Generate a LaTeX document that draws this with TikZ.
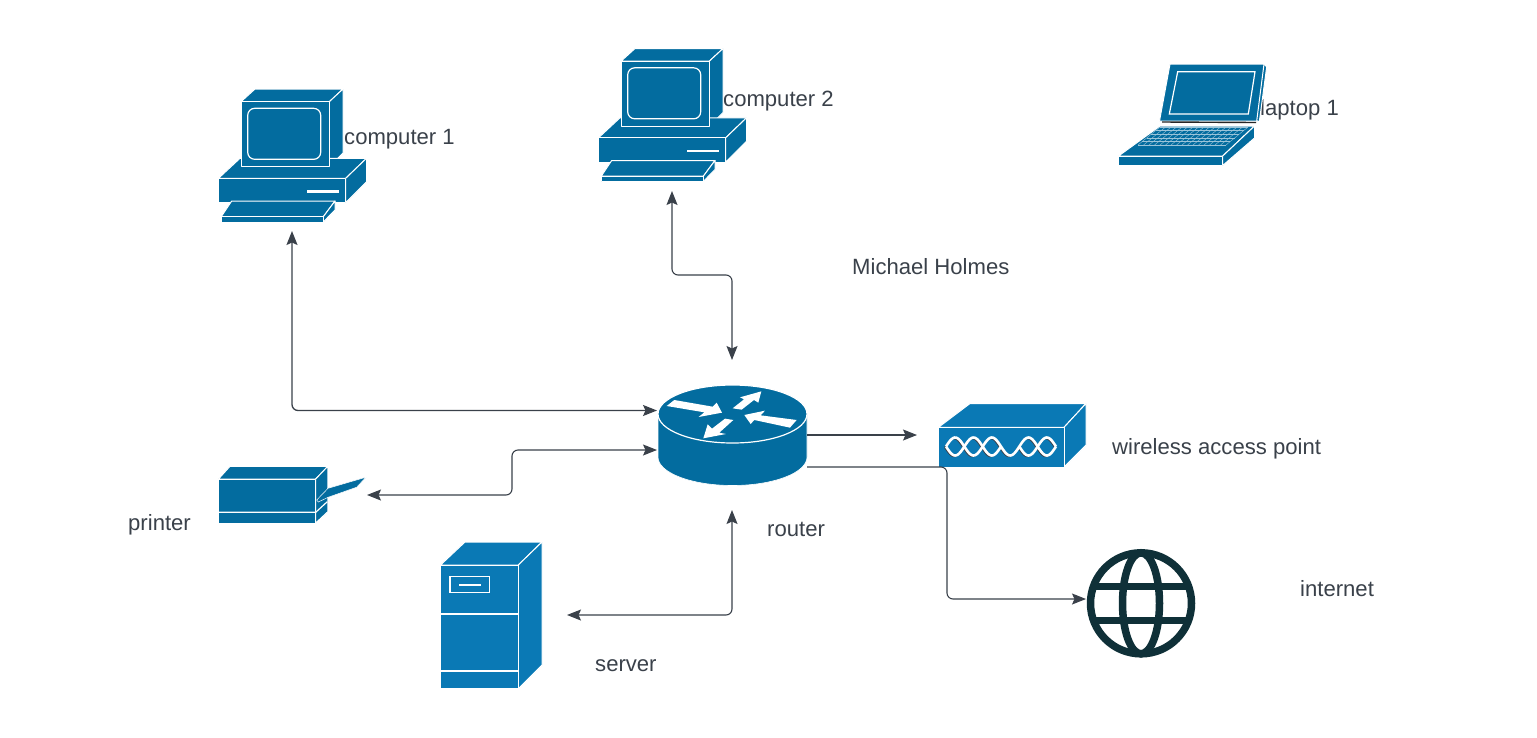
\documentclass[tikz,border=0pt]{standalone}
\usepackage{fontspec}
\setmainfont{Liberation Sans}
\usetikzlibrary{arrows.meta}
\definecolor{iconA}{HTML}{036C9F}
\definecolor{iconB}{HTML}{0A79B5}
\definecolor{inkc}{HTML}{3A414A}
\definecolor{globec}{HTML}{0F3038}
\tikzset{
  x=1pt,y=-1pt,
  face/.style={fill=iconA,draw=white,line width=1pt,line join=round},
  faceb/.style={fill=iconB,draw=white,line width=1pt,line join=round},
  detail/.style={draw=white,line width=1.2pt},
  tag/.style={anchor=base west,inner sep=0pt,text=inkc,font=\fontsize{22.1}{26}\selectfont},
  linkone/.style={draw=inkc,line width=1.1pt,rounded corners=6pt,-{Stealth[length=14pt,width=11pt,inset=2.5pt]}},
  linkboth/.style={draw=inkc,line width=1.1pt,rounded corners=6pt,{Stealth[length=14pt,width=11pt,inset=2.5pt]}-{Stealth[length=14pt,width=11pt,inset=2.5pt]}},
  computerpic/.pic={
    % origin = left edge of base, top edge of monitor
    \path[face] (22,12.7)--(36,0)--(124,0)--(110.3,12.7)--cycle;
    \path[face] (110.3,12.7)--(124,0)--(124,64)--(110.3,77.7)--cycle;
    \path[face] (-0.5,89.3)--(21,69.3)--(147.5,69.3)--(126.7,89.3)--cycle;
    \path[face] (126.7,89.3)--(147.5,69.3)--(147.5,92.7)--(126.7,113.6)--cycle;
    \path[face] (-0.5,89.3) rectangle (126.7,113.6);
    \path[face] (22,12.7) rectangle (110.3,77.7);
    \path[detail,rounded corners=7pt] (28.7,19.3) rectangle (101.7,70.3);
    \path[fill=white] (87.7,101) rectangle (120,103.7);
    \path[face] (12.7,112)--(116,112)--(104.3,127.7)--(2.2,127.7)--cycle;
    \path[face] (104.3,127.7)--(116,112)--(116,121)--(104.3,133)--cycle;
    \path[face] (2.2,127.7) rectangle (104.3,133);
  }
}
\begin{document}
\begin{tikzpicture}
\useasboundingbox[fill=white] (0,0) rectangle (1537,737);

% connector ends
\coordinate (c1end) at (292,231);
\coordinate (c1knee) at (292,410.5);
\coordinate (r1) at (657,410.5);
\coordinate (c2end) at (672,191);
\coordinate (c2k1) at (672,275);
\coordinate (c2k2) at (732,275);
\coordinate (r2) at (732,360);
\coordinate (prend) at (367,495);
\coordinate (prk1) at (512,495);
\coordinate (prk2) at (512,450);
\coordinate (r3) at (657,450);
\coordinate (svend) at (567,615);
\coordinate (svk) at (732,615);
\coordinate (r4) at (732,510);
\coordinate (r5) at (807,435);
\coordinate (apend) at (917,435);
\coordinate (r6) at (807,467);
\coordinate (ink1) at (947,467);
\coordinate (ink2) at (947,599);
\coordinate (inend) at (1086,599);

% labels
\node[tag] (lc1) at (344,144) {computer 1};
\node[tag] (lc2) at (723,106) {computer 2};
\node[tag] (llp) at (1260,115) {laptop 1};
\node[tag] (lname) at (852,274.5) {Michael Holmes};
\node[tag] (lap) at (1112,454) {wireless access point};
\node[tag] (lrt) at (767,536) {router};
\node[tag] (lpr) at (128,530.5) {printer};
\node[tag] (lsv) at (595,671) {server};
\node[tag] (lin) at (1300,596) {internet};

% computers
\pic at (219,89) {computerpic};
\pic at (599,48.5) {computerpic};

% laptop
\path[face] (1170.7,64.3)--(1264,64.3)--(1266.7,66.7)--(1259.3,121.7)--(1256.7,120.7)--cycle;
\path[face] (1170,64)--(1264,64)--(1256.7,121)--(1159.5,121)--cycle;
\path[detail] (1177.7,71.7)--(1255,71.7)--(1248.3,114)--(1169.3,114)--cycle;
\path[draw=black!85,line width=1.4pt] (1162,122)--(1256,122.5);
\path[face] (1160,126)--(1254.5,126)--(1222.7,156)--(1118.5,156)--cycle;
\path[face] (1222.7,156)--(1254.5,126)--(1254.5,138)--(1222.7,165.5)--cycle;
\path[face] (1118.5,156) rectangle (1222.7,165.5);
\foreach \t in {0,0.2,0.4,0.6,0.8,1}
  \path[draw=white!60!iconA,line width=0.4pt]
    ({1160-22*\t},{127+18*\t})--({1248-22*\t},{127+18*\t});
\foreach \t in {0,0.0625,...,1.01}
  \path[draw=white!60!iconA,line width=0.4pt]
    ({1160+88*\t},127)--({1138+88*\t},145);

% router
\path[fill=iconA,draw=white,line width=0.6pt] (658,413) -- (658,457) arc[start angle=180,end angle=0,x radius=74.5,y radius=28.5] -- (807,413) -- cycle;
\path[fill=iconA,draw=white,line width=1.2pt] (732.5,414) ellipse[x radius=74.5,y radius=29];
\begin{scope}[shift={(640,370)},x=0.3333pt,y=-0.3333pt]
  \path[fill=white] (80,108)--(103,90)--(218,110)--(230,98)--(246,128)--(176,141)--(193,127)--cycle;
  \path[fill=white] (278,115)--(312,88)--(300,82)--(364,64)--(355,98)--(342,90)--(305,119)--cycle;
  \path[fill=white] (313,135)--(375,122)--(362,136)--(470,150)--(450,173)--(343,150)--(332,162)--cycle;
  \path[fill=white] (190,205)--(203,163)--(216,176)--(255,146)--(280,150)--(238,188)--(258,192)--cycle;
\end{scope}

% access point
\path[faceb] (938.5,427.3)--(970,403.5)--(1086,403.5)--(1064,427.3)--cycle;
\path[faceb] (1064,427.3)--(1086,403.5)--(1086,445)--(1064,467)--cycle;
\path[faceb] (938.5,427.3) rectangle (1064,467);
\begin{scope}[xshift=-1.2pt,yshift=-1pt]
\path[draw=inkc,line width=1.4pt] plot[domain=946:1056,samples=90] (\x,{446.5-9*sin((\x-946)/18.33*180)});
\path[draw=inkc,line width=1.4pt] plot[domain=946:1001,samples=50] (\x,{446.5+9*sin((\x-946)/18.33*180)});
\path[draw=inkc,line width=1.4pt] plot[domain=1019.3:1056,samples=40] (\x,{446.5+9*sin((\x-946)/18.33*180)});
\end{scope}
\path[draw=white,line width=2.6pt] plot[domain=946:1056,samples=90] (\x,{446.5-9*sin((\x-946)/18.33*180)});
\path[draw=white,line width=2.6pt] plot[domain=946:1001,samples=50] (\x,{446.5+9*sin((\x-946)/18.33*180)});
\path[draw=white,line width=2.6pt] plot[domain=1019.3:1056,samples=40] (\x,{446.5+9*sin((\x-946)/18.33*180)});

% printer
\path[face] (218.5,479)--(230,466.3)--(327.8,466.3)--(315.7,479)--cycle;
\path[face] (315.7,479)--(327.8,466.3)--(327.8,511.7)--(315.7,523)--cycle;
\path[face] (218.5,479) rectangle (315.7,523);
\path[detail] (218.5,512.3)--(315.7,512.3)--(327.3,501.7);
\path[fill=iconA,draw=white,line width=0.5pt] (316.7,500)--(328,488.3)--(366,477.2)--(356.7,487.2)--(328.3,497.2)--(318.3,502)--cycle;

% server
\path[faceb] (440.5,565)--(465,542)--(542,542)--(518.3,565)--cycle;
\path[faceb] (518.3,565)--(542,542)--(542,665)--(518.3,688.8)--cycle;
\path[faceb] (440.5,565) rectangle (518.3,688.8);
\path[detail] (440.5,614)--(518.3,614);
\path[detail] (440.5,671)--(518.3,671);
\path[detail] (450,576.7) rectangle (489.3,592.7);
\path[detail] (459.3,585)--(481,585);

% globe
\begin{scope}[line width=7.5pt]
  \path[draw=globec] (1141,603.3) circle[radius=50.5];
  \path[draw=globec] (1141,603.3) ellipse[x radius=18.5,y radius=50.5];
  \path[draw=globec] (1095,586.7)--(1187,586.7);
  \path[draw=globec] (1095,620.7)--(1187,620.7);
\end{scope}

% connectors
\draw[linkboth,line width=1.3pt] (c1end) -- (c1knee) -- (r1);
\draw[linkboth] (c2end) -- (c2k1) -- (c2k2) -- (r2);
\draw[linkboth] (prend) -- (prk1) -- (prk2) -- (r3);
\draw[linkboth] (svend) -- (svk) -- (r4);
\draw[linkone] (r5) -- (apend);
\draw[linkone] (r6) -- (ink1) -- (ink2) -- (inend);
\end{tikzpicture}
\end{document}
